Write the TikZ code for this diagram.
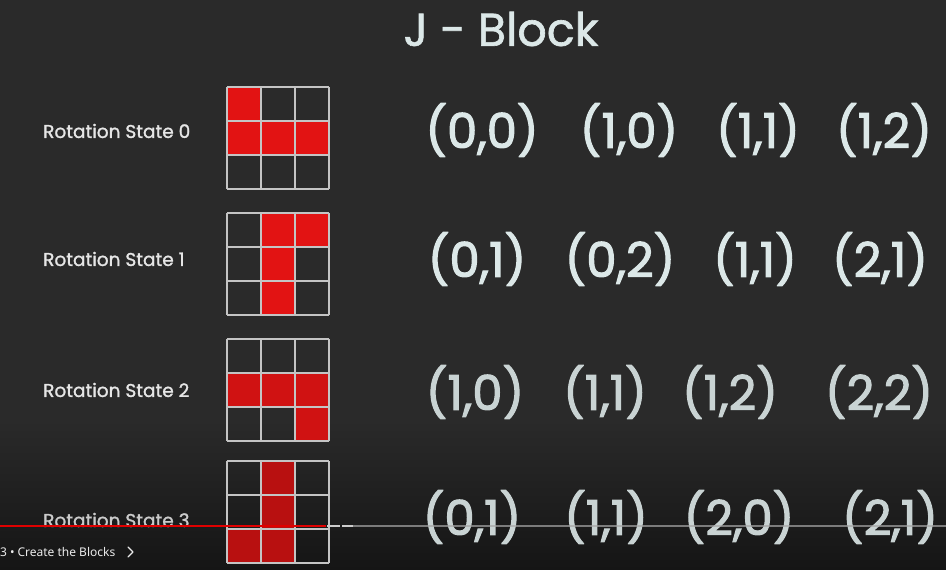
\documentclass[tikz,border=0pt]{standalone}
\usepackage{fontspec}
\setmainfont{Poppins}
\newfontfamily\boldish{Poppins}[FakeBold=2.2]
\newfontfamily\semibold{Poppins}[FakeBold=1.4]
\newfontfamily\uifont{Noto Sans}
\definecolor{bg}{HTML}{2A2A2A}
\definecolor{bgdark}{HTML}{151515}
\definecolor{cellred}{HTML}{E21313}
\definecolor{cellreddark}{HTML}{B81010}
\definecolor{gridgray}{HTML}{C4C4C4}
\definecolor{coordtext}{HTML}{DCE8E8}
\definecolor{coordtextdim}{HTML}{C9D3D3}
\definecolor{labeltext}{HTML}{E6E6E6}
\definecolor{barred}{HTML}{E00000}
\tikzset{
  gridline/.style={draw=gridgray, line width=1.6pt},
  statelabel/.style={text=labeltext, font=\semibold\fontsize{18.5}{20}\selectfont, anchor=west, inner sep=0pt},
  coord/.style={text=coordtext, font=\boldish\fontsize{48}{50}\selectfont, inner sep=0pt},
  coorddim/.style={coord, text=coordtextdim},
  titletext/.style={text=coordtext, font=\semibold\fontsize{46}{50}\selectfont, inner sep=0pt},
}
\newcommand{\jgrid}[3]{%
  \begin{scope}[shift={(227,#1)}]
    \foreach \r/\c in {#2} {
      \fill[#3] (34*\c,34*\r) rectangle ++(34,34);
    }
    \foreach \i in {0,1,2,3} {
      \draw[gridline] (34*\i,0) -- (34*\i,102);
      \draw[gridline] (0,34*\i) -- (102,34*\i);
    }
  \end{scope}%
}
\begin{document}
\begin{tikzpicture}[x=1pt,y=-1pt]
\useasboundingbox (0,0) rectangle (946,570);
\fill[bg] (0,0) rectangle (946,570);
\shade[top color=bg, bottom color=bgdark] (0,420) rectangle (946,570);

% title
\node[titletext] (title) at (501,29) {J - Block};

% state labels
\node[statelabel] (s0) at (43,131) {Rotation State 0};
\node[statelabel] (s1) at (43,259) {Rotation State 1};
\node[statelabel] (s2) at (43,390) {Rotation State 2};
\node[statelabel, text=labeltext!85!bg] (s3) at (43,520) {Rotation State 3};

% grids
\jgrid{87}{0/0,1/0,1/1,1/2}{cellred}
\jgrid{213}{0/1,0/2,1/1,2/1}{cellred}
\jgrid{339}{1/0,1/1,1/2,2/2}{cellred!92!black}
\jgrid{461}{0/1,1/1,2/0,2/1}{cellreddark}

% coordinates
\node[coord] (r0a) at (482,130) {(0,0)};
\node[coord] (r0b) at (629,130) {(1,0)};
\node[coord] (r0c) at (758,130) {(1,1)};
\node[coord] (r0d) at (884,130) {(1,2)};

\node[coord] (r1a) at (477,259) {(0,1)};
\node[coord] (r1b) at (620,259) {(0,2)};
\node[coord] (r1c) at (755,259) {(1,1)};
\node[coord] (r1d) at (880,259) {(2,1)};

\node[coorddim] (r2a) at (475,392) {(1,0)};
\node[coorddim] (r2b) at (605,392) {(1,1)};
\node[coorddim] (r2c) at (730,392) {(1,2)};
\node[coorddim] (r2d) at (879,392) {(2,2)};

\node[coorddim] (r3a) at (472,517) {(0,1)};
\node[coorddim] (r3b) at (606,517) {(1,1)};
\node[coorddim] (r3c) at (739,517) {(2,0)};
\node[coorddim] (r3d) at (890,517) {(2,1)};

% player progress bar overlay
\draw[gray!70, line width=1.4pt, opacity=0.7] (353,526) -- (946,526);
\draw[gray!40, line width=2.5pt] (327,526) -- (340,526);
\draw[gray!40, line width=2.5pt] (342,526) -- (353,526);
\draw[barred, line width=2.8pt] (0,526) -- (326,526);

% chapter text
\node[text=white!92!black, font=\uifont\fontsize{12}{14}\selectfont, anchor=west, inner sep=0pt] (chap) at (0,552) {3\hspace{3pt}•\hspace{3pt}Create the Blocks};
\draw[white!92!black, line width=1.3pt, line cap=round, line join=round] (128,547) -- (133,552) -- (128,557);
\end{tikzpicture}
\end{document}
